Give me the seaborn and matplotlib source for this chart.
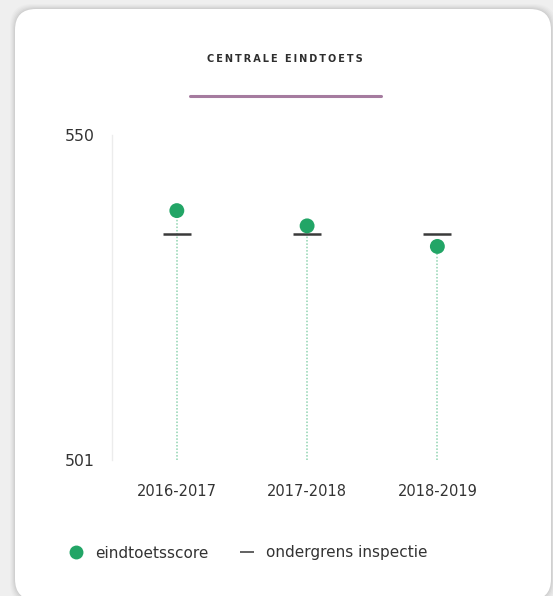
import numpy as np
import pandas as pd
import matplotlib
matplotlib.use("Agg")
import matplotlib.pyplot as plt
from matplotlib.patches import FancyBboxPatch
from matplotlib.lines import Line2D
import seaborn as sns

# ---- data ----
years = ["2016-2017", "2017-2018", "2018-2019"]
scores = [538.6, 536.3, 533.2]
ondergrens = [535.0, 535.0, 535.0]
y_ticks = [501, 550]
title = "CENTRALE EINDTOETS"
legend_labels = ["eindtoetsscore", "ondergrens inspectie"]

sns.set_theme(style="white")
plt.rcParams['font.family'] = ['DejaVu Sans']

W, H = 553, 596
fig = plt.figure(figsize=(W / 100, H / 100), dpi=100)
fig.patch.set_facecolor("#efefef")

def fx(px):
    return px / W

def fy(py):
    return 1 - py / H

# shadow + card
for i, a in enumerate([0.015, 0.02, 0.025, 0.03, 0.035]):
    g = 5 - i
    sh = FancyBboxPatch((fx(15 - g), fy(600 + g)), fx(536 + 2 * g), (591 + 2 * g) / H,
                        boxstyle="round,pad=0,rounding_size=0.04", transform=fig.transFigure,
                        facecolor="black", edgecolor="none", alpha=a, zorder=0,
                        mutation_aspect=W / H)
    fig.patches.append(sh)
card = FancyBboxPatch((fx(15), fy(600)), fx(536), 591 / H,
                      boxstyle="round,pad=0,rounding_size=0.038", transform=fig.transFigure,
                      facecolor="white", edgecolor="none", zorder=1, mutation_aspect=W / H)
fig.patches.append(card)

ax = fig.add_axes([fx(111.7), fy(460), fx(502.5 - 111.7), (460 - 135) / H])
ax.set_facecolor("none")
ax.set_zorder(2)

df = pd.DataFrame({"jaar": years, "score": scores, "grens": ondergrens})

green = "#22a566"
# dotted stems
ax.vlines(np.arange(len(years)), y_ticks[0], df["score"], colors="#8fd3b0",
          linestyles=(0, (1, 1.2)), linewidth=1.1, zorder=1)
sns.scatterplot(data=df, x="jaar", y="grens", marker="_", s=420, linewidth=1.8,
                color="#3a3a3a", ax=ax, zorder=2, legend=False)
sns.scatterplot(data=df, x="jaar", y="score", s=115, color=green, edgecolor="none",
                ax=ax, zorder=3, legend=False)

ax.set_xlim(-0.5, 2.5)
ax.set_ylim(y_ticks[0], y_ticks[1])
ax.set_yticks(y_ticks)
ax.set_xlabel("")
ax.set_ylabel("")
for s in ["top", "right", "bottom"]:
    ax.spines[s].set_visible(False)
ax.spines["left"].set_color("#ececec")
ax.spines["left"].set_linewidth(1.0)
ax.tick_params(axis="y", length=0, pad=12, labelsize=11.3, labelcolor="#333333")
ax.tick_params(axis="x", length=0, pad=17, labelsize=10.5, labelcolor="#333333")

# title and underline
spaced = "\u2009".join(title)
fig.text(fx(285), fy(59), spaced, ha="center", va="center", fontsize=7.0,
         fontweight="bold", color="#2e2e2e")
fig.add_artist(Line2D([fx(190), fx(381)], [fy(96), fy(96)], transform=fig.transFigure,
                      color="#a57b9f", linewidth=2.2, zorder=3))

# legend
handles = [Line2D([], [], marker="o", linestyle="none", markersize=10, color=green,
                  markeredgecolor="none"),
           Line2D([], [], marker="_", linestyle="none", markersize=10, markeredgewidth=1.3,
                  color="#555555")]
fig.legend(handles, legend_labels, loc="center left", bbox_to_anchor=(fx(68.5), fy(553)),
           ncol=2, frameon=False, fontsize=11, handletextpad=0.73, columnspacing=2.05,
           labelcolor="#333333", handlelength=1.0, borderaxespad=0, borderpad=0)

fig.savefig("out.png", dpi=100, facecolor=fig.get_facecolor())
